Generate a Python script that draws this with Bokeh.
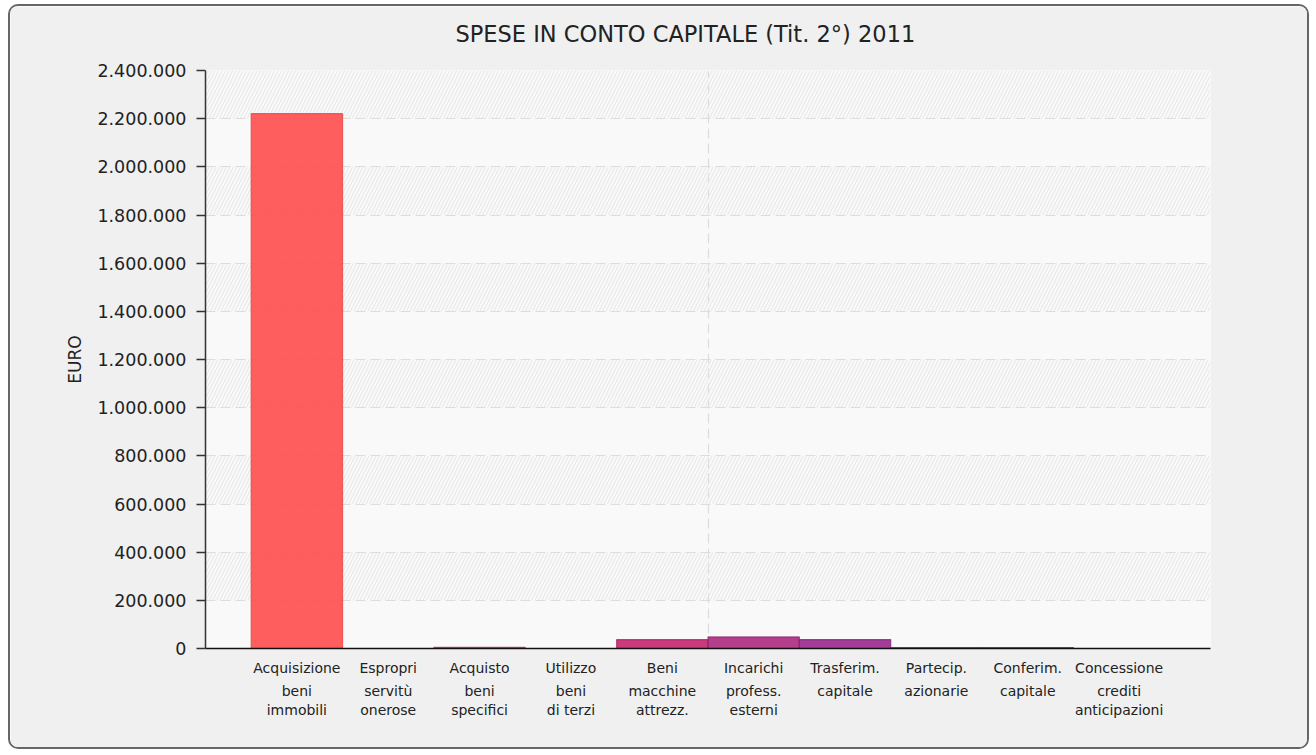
from bokeh.plotting import figure
from bokeh.models import Range1d, FixedTicker, LinearAxis, CustomJSTickFormatter, Title
from bokeh.embed import file_html
from bokeh.resources import INLINE

title_text = "SPESE IN CONTO CAPITALE (Tit. 2°) 2011"
y_label = "EURO"
cat_top = ["Acquisizione", "Espropri", "Acquisto", "Utilizzo", "Beni",
           "Incarichi", "Trasferim.", "Partecip.", "Conferim.", "Concessione"]
cat_rest = ["beni\nimmobili", "servitù\nonerose", "beni\nspecifici", "beni\ndi terzi",
            "macchine\nattrezz.", "profess.\nesterni", "capitale", "azionarie",
            "capitale", "crediti\nanticipazioni"]
values = [2221000, 0, 5000, 0, 37000, 48000, 37000, 4000, 4000, 0]
colors = ["#ff5050", "#f0406a", "#e6306c", "#d42f70", "#c42a70",
          "#ad2f80", "#9b2d8e", "#922a9e", "#8230b8", "#6a30cc"]
line_colors = ["#e83a3a", "#d02a55", "#c81e58", "#b01e5c", "#a01c5c",
               "#8c1c6a", "#7c1c78", "#741c86", "#641e9c", "#5020b0"]
y_ticks = list(range(0, 2400001, 200000))

n = len(cat_top)
centers = [i + 0.5 for i in range(n)]

p = figure(width=1301, height=745, output_backend="svg", toolbar_location=None,
           x_range=Range1d(-0.5, n + 0.5), y_range=Range1d(0, y_ticks[-1]),
           min_border_left=195, min_border_right=101, min_border_top=64,
           min_border_bottom=103, x_axis_location=None)
p.styles = {"border": "2px solid #666666", "border-radius": "10px",
            "margin-top": "4px", "margin-left": "8px", "overflow": "hidden"}

p.background_fill_color = "#f9f9f9"
p.border_fill_color = "#f0f0f0"
p.outline_line_color = None

# small empty spacer between frame and title
spacer = Title(text=" ", text_font_size="2px", standoff=4)
p.add_layout(spacer, "above")
t = Title(text=title_text, align="left", vertical_align="top", text_font="DejaVu Sans",
          text_font_size="22.5px", text_font_style="normal", text_color="#222222",
          offset=250, standoff=28)
p.add_layout(t, "above")

p.vbar(x=centers, top=values, width=1.0, fill_color=colors, fill_alpha=0.92,
       line_color=line_colors, line_alpha=0.7, line_width=1.2)

# y axis
ya = p.yaxis[0]
ya.ticker = FixedTicker(ticks=y_ticks)
ya.formatter = CustomJSTickFormatter(
    code="return Math.round(tick).toString().replace(/\\B(?=(\\d{3})+(?!\\d))/g, '.');")
ya.axis_label = y_label
ya.axis_label_text_font = "DejaVu Sans"
ya.axis_label_text_font_size = "17px"
ya.axis_label_text_font_style = "normal"
ya.axis_label_text_color = "#222222"
ya.axis_label_standoff = 9
ya.major_label_text_font = "DejaVu Sans"
ya.major_label_text_font_size = "17.5px"
ya.major_label_text_color = "#222222"
ya.major_label_standoff = 10
ya.major_tick_out = 9
ya.major_tick_in = 0
ya.minor_tick_out = 0
ya.minor_tick_in = 0
ya.axis_line_color = "#333333"
ya.axis_line_width = 1.5
ya.major_tick_line_color = "#333333"
ya.major_tick_line_width = 1.5

# x axes (two rows of labels)
xa1 = LinearAxis(ticker=FixedTicker(ticks=centers),
                 major_label_overrides={c: s for c, s in zip(centers, cat_top)})
xa1.major_label_text_font = "DejaVu Sans"
xa1.major_label_text_font_size = "14px"
xa1.major_label_text_color = "#222222"
xa1.major_label_standoff = 11
xa1.major_tick_out = 0
xa1.major_tick_in = 0
xa1.minor_tick_out = 0
xa1.minor_tick_in = 0
xa1.axis_line_color = "#111111"
xa1.axis_line_width = 1.5
p.add_layout(xa1, "below")

xa2 = LinearAxis(ticker=FixedTicker(ticks=centers),
                 major_label_overrides={c: s for c, s in zip(centers, cat_rest)})
xa2.major_label_text_font = "DejaVu Sans"
xa2.major_label_text_font_size = "14px"
xa2.major_label_text_color = "#222222"
xa2.major_label_standoff = 4
xa2.major_tick_out = 0
xa2.major_tick_in = 0
xa2.minor_tick_out = 0
xa2.minor_tick_in = 0
xa2.axis_line_color = None
p.add_layout(xa2, "below")

# grids
p.ygrid.ticker = FixedTicker(ticks=y_ticks)
p.ygrid.grid_line_color = "#dddddd"
p.ygrid.grid_line_dash = "10 5"
p.ygrid.grid_line_width = 1.2
p.ygrid.band_hatch_pattern = "/"
p.ygrid.band_hatch_color = "#e6e6e6"
p.ygrid.band_hatch_scale = 7
p.ygrid.band_hatch_weight = 1
p.ygrid.band_fill_color = None

p.xgrid.ticker = FixedTicker(ticks=[n / 2])
p.xgrid.grid_line_color = "#dddddd"
p.xgrid.grid_line_dash = "10 5"
p.xgrid.grid_line_width = 1.2

open("out.html", "w").write(file_html(p, INLINE))
